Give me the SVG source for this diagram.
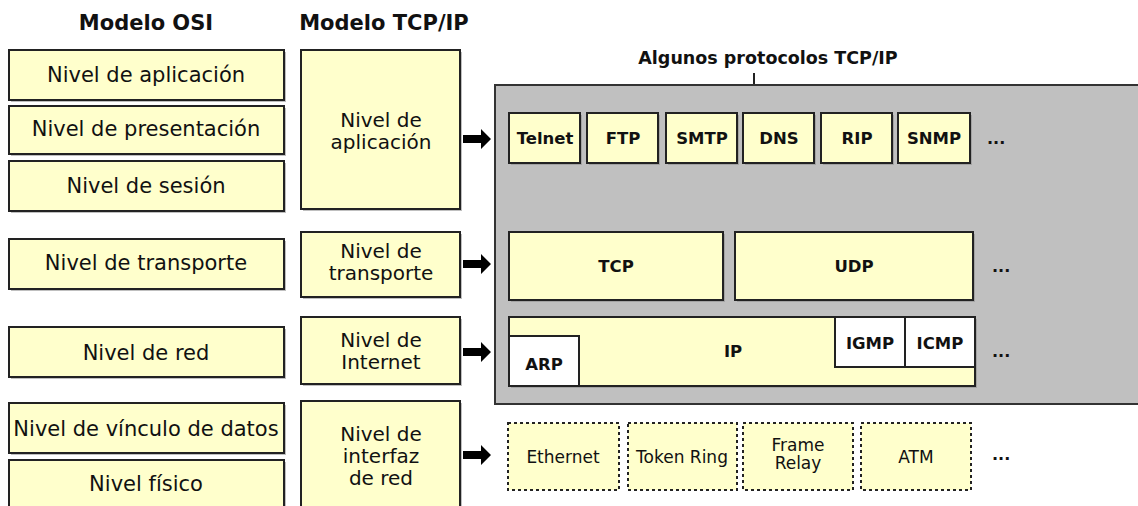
<svg xmlns="http://www.w3.org/2000/svg" width="1138" height="506" viewBox="0 0 1138 506">
  <defs>
    <style>
      .box { fill: #FFFFCC; stroke: #222; stroke-width: 2; }
      .wbox { fill: #FFFFFF; stroke: #222; stroke-width: 2; }
      .shadow { fill: #8a8a8a; opacity: 0.55; }
      .dot { fill: #FFFFCC; stroke: #222; stroke-width: 2; stroke-dasharray: 3 3; }
      .t { font-family: "DejaVu Sans", Verdana, sans-serif; font-size: 21px; fill: #111; text-anchor: middle; }
      .m { font-family: "DejaVu Sans", Verdana, sans-serif; font-size: 20px; fill: #111; text-anchor: middle; }
      .s { font-family: "DejaVu Sans", Verdana, sans-serif; font-size: 17px; fill: #111; text-anchor: middle; }
      .b { font-family: "DejaVu Sans", Verdana, sans-serif; font-size: 16.5px; font-weight: bold; fill: #111; text-anchor: middle; }
      .h { font-family: "DejaVu Sans", Verdana, sans-serif; font-size: 21px; font-weight: bold; fill: #111; text-anchor: middle; }
      .h2 { font-family: "DejaVu Sans", Verdana, sans-serif; font-size: 17.5px; font-weight: bold; fill: #111; text-anchor: middle; }
      .ell { font-family: "DejaVu Sans", Verdana, sans-serif; font-size: 16px; font-weight: bold; fill: #111; }
    </style>
    <path id="arrow" d="M0,-4 H18 V-10 L28,0 L18,10 V4 H0 Z" fill="#000"/>
  </defs>

  <rect width="1138" height="506" fill="#FFFFFF"/>

  <!-- Column headings -->
  <text class="h" x="146" y="30">Modelo OSI</text>
  <text class="h" x="384" y="30">Modelo TCP/IP</text>

  <!-- OSI model layers -->
  <g id="osi-aplicacion">
    <rect class="shadow" x="11" y="52" width="275" height="50"/>
    <rect class="box" x="9" y="50" width="275" height="50"/>
    <text class="t" x="146" y="82">Nivel de aplicación</text>
  </g>
  <g id="osi-presentacion">
    <rect class="shadow" x="11" y="108" width="275" height="48"/>
    <rect class="box" x="9" y="106" width="275" height="48"/>
    <text class="t" x="146" y="136">Nivel de presentación</text>
  </g>
  <g id="osi-sesion">
    <rect class="shadow" x="11" y="163" width="275" height="50"/>
    <rect class="box" x="9" y="161" width="275" height="50"/>
    <text class="t" x="146" y="193">Nivel de sesión</text>
  </g>
  <g id="osi-transporte">
    <rect class="shadow" x="11" y="241" width="275" height="50"/>
    <rect class="box" x="9" y="239" width="275" height="50"/>
    <text class="t" x="146" y="270">Nivel de transporte</text>
  </g>
  <g id="osi-red">
    <rect class="shadow" x="11" y="329" width="275" height="50"/>
    <rect class="box" x="9" y="327" width="275" height="50"/>
    <text class="t" x="146" y="360">Nivel de red</text>
  </g>
  <g id="osi-vinculo">
    <rect class="shadow" x="11" y="405" width="275" height="50"/>
    <rect class="box" x="9" y="403" width="275" height="50"/>
    <text class="t" x="146" y="436">Nivel de vínculo de datos</text>
  </g>
  <g id="osi-fisico">
    <rect class="shadow" x="11" y="462" width="275" height="60"/>
    <rect class="box" x="9" y="460" width="275" height="60"/>
    <text class="t" x="146" y="491">Nivel físico</text>
  </g>

  <!-- TCP/IP model layers -->
  <g id="tcpip-aplicacion">
    <rect class="shadow" x="303" y="52" width="159" height="159"/>
    <rect class="box" x="301" y="50" width="159" height="159"/>
    <text class="m" x="381" y="127">Nivel de</text>
    <text class="m" x="381" y="149">aplicación</text>
  </g>
  <g id="tcpip-transporte">
    <rect class="shadow" x="303" y="234" width="159" height="65"/>
    <rect class="box" x="301" y="232" width="159" height="65"/>
    <text class="m" x="381" y="258">Nivel de</text>
    <text class="m" x="381" y="280">transporte</text>
  </g>
  <g id="tcpip-internet">
    <rect class="shadow" x="303" y="319" width="159" height="67"/>
    <rect class="box" x="301" y="317" width="159" height="67"/>
    <text class="m" x="381" y="347">Nivel de</text>
    <text class="m" x="381" y="369">Internet</text>
  </g>
  <g id="tcpip-interfaz">
    <rect class="shadow" x="303" y="403" width="159" height="120"/>
    <rect class="box" x="301" y="401" width="159" height="120"/>
    <text class="m" x="381" y="441">Nivel de</text>
    <text class="m" x="381" y="463">interfaz</text>
    <text class="m" x="381" y="485">de red</text>
  </g>

  <!-- Connectors: layer to protocol arrows and the heading tick -->
  <g id="connectors">
    <use href="#arrow" x="463" y="139"/>
    <use href="#arrow" x="463" y="264"/>
    <use href="#arrow" x="463" y="352"/>
    <use href="#arrow" x="463" y="455"/>
    <line x1="754" y1="73" x2="754" y2="85" stroke="#222" stroke-width="2"/>
  </g>

  <!-- Protocol panel -->
  <g id="protocolos">
    <text class="h2" x="768" y="64">Algunos protocolos TCP/IP</text>
    <rect x="495" y="85" width="650" height="319" fill="#C0C0C0" stroke="#333" stroke-width="2"/>
  </g>

  <!-- Application protocols -->
  <g id="telnet">
    <rect class="shadow" x="511" y="115" width="71" height="50"/>
    <rect class="box" x="509" y="113" width="71" height="50"/>
    <text class="b" x="545" y="144">Telnet</text>
  </g>
  <g id="ftp">
    <rect class="shadow" x="589" y="115" width="71" height="50"/>
    <rect class="box" x="587" y="113" width="71" height="50"/>
    <text class="b" x="623" y="144">FTP</text>
  </g>
  <g id="smtp">
    <rect class="shadow" x="668" y="115" width="71" height="50"/>
    <rect class="box" x="666" y="113" width="71" height="50"/>
    <text class="b" x="702" y="144">SMTP</text>
  </g>
  <g id="dns">
    <rect class="shadow" x="745" y="115" width="71" height="50"/>
    <rect class="box" x="743" y="113" width="71" height="50"/>
    <text class="b" x="779" y="144">DNS</text>
  </g>
  <g id="rip">
    <rect class="shadow" x="823" y="115" width="71" height="50"/>
    <rect class="box" x="821" y="113" width="71" height="50"/>
    <text class="b" x="857" y="144">RIP</text>
  </g>
  <g id="snmp">
    <rect class="shadow" x="900" y="115" width="72" height="50"/>
    <rect class="box" x="898" y="113" width="72" height="50"/>
    <text class="b" x="934" y="144">SNMP</text>
  </g>
  <text class="ell" x="987" y="144">...</text>

  <!-- Transport protocols -->
  <g id="tcp">
    <rect class="shadow" x="511" y="234" width="214" height="68"/>
    <rect class="box" x="509" y="232" width="214" height="68"/>
    <text class="b" x="616" y="272">TCP</text>
  </g>
  <g id="udp">
    <rect class="shadow" x="737" y="234" width="238" height="68"/>
    <rect class="box" x="735" y="232" width="238" height="68"/>
    <text class="b" x="854" y="272">UDP</text>
  </g>
  <text class="ell" x="992" y="272">...</text>

  <!-- Internet protocols -->
  <g id="ip">
    <rect class="shadow" x="511" y="319" width="466" height="69"/>
    <rect class="box" x="509" y="317" width="466" height="69"/>
    <text class="b" x="733" y="357">IP</text>
  </g>
  <g id="arp">
    <rect class="wbox" x="509" y="336" width="70" height="50"/>
    <text class="b" x="544" y="370">ARP</text>
  </g>
  <g id="igmp">
    <rect class="wbox" x="835" y="317" width="70" height="50"/>
    <text class="b" x="870" y="349">IGMP</text>
  </g>
  <g id="icmp">
    <rect class="wbox" x="905" y="317" width="70" height="50"/>
    <text class="b" x="940" y="349">ICMP</text>
  </g>
  <text class="ell" x="992" y="357">...</text>

  <!-- Network interface technologies -->
  <g id="ethernet">
    <rect class="dot" x="508" y="423" width="111" height="67"/>
    <text class="s" x="563" y="463">Ethernet</text>
  </g>
  <g id="token-ring">
    <rect class="dot" x="628" y="423" width="109" height="67"/>
    <text class="s" x="682" y="463">Token Ring</text>
  </g>
  <g id="frame-relay">
    <rect class="dot" x="743" y="423" width="110" height="67"/>
    <text class="s" x="798" y="451">Frame</text>
    <text class="s" x="798" y="469">Relay</text>
  </g>
  <g id="atm">
    <rect class="dot" x="861" y="423" width="110" height="67"/>
    <text class="s" x="916" y="463">ATM</text>
  </g>
  <text class="ell" x="992" y="460">...</text>
</svg>
